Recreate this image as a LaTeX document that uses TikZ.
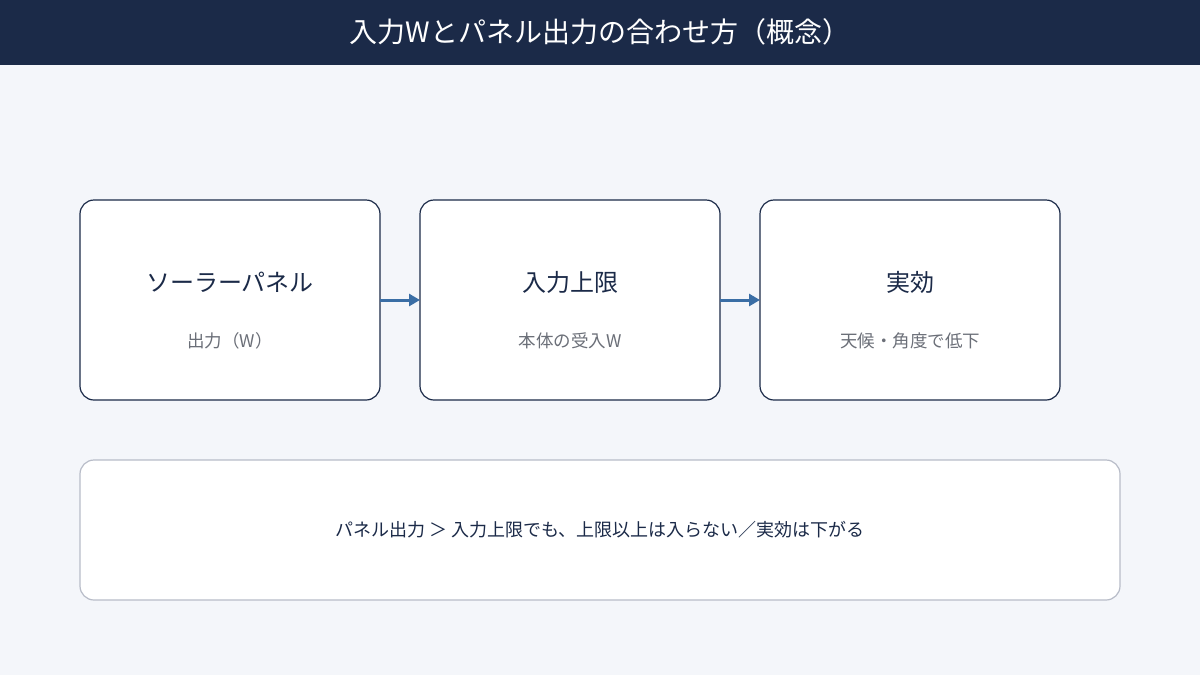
\documentclass[tikz,border=0pt]{standalone}
\usepackage{fontspec}
\setmainfont{Noto Sans CJK JP}
\usetikzlibrary{arrows.meta}
\definecolor{navy}{HTML}{1B2A48}
\definecolor{bg}{HTML}{F4F6FA}
\definecolor{arr}{HTML}{3A6EA5}
\definecolor{sub}{HTML}{6B6F78}
\definecolor{gb}{HTML}{B8BCC8}
\tikzset{
 box/.style={draw=navy,line width=1.2pt,fill=white,rounded corners=14pt},
 ttl/.style={text=navy,font=\fontsize{24}{28}\selectfont},
 sb/.style={text=sub,font=\fontsize{17.5}{21}\selectfont},
 con/.style={draw=arr,line width=3pt,-{Triangle[length=11pt,width=12pt]}}
}
\begin{document}
\begin{tikzpicture}[x=1pt,y=-1pt]
\useasboundingbox (0,0) rectangle (1200,675);
\fill[bg] (0,0) rectangle (1200,675);
\fill[navy] (0,0) rectangle (1200,65);
\node[text=white,font=\fontsize{28}{32}\selectfont] (title) at (600,32) {入力Wとパネル出力の合わせ方（概念）};
\draw[box] (80,200) rectangle (380,400);
\draw[box] (420,200) rectangle (720,400);
\draw[box] (760,200) rectangle (1060,400);
\node[ttl] (t1) at (230,282) {ソーラーパネル};
\node[sb] (s1) at (230,341) {出力（W）};
\node[ttl] (t2) at (570,282) {入力上限};
\node[sb] (s2) at (570,341) {本体の受入W};
\node[ttl] (t3) at (910,282) {実効};
\node[sb] (s3) at (910,341) {天候・角度で低下};
\coordinate (a1) at (380,300); \coordinate (a2) at (420,300);
\coordinate (a3) at (720,300); \coordinate (a4) at (760,300);
\draw[con] (a1) -- (a2);
\draw[con] (a3) -- (a4);
\draw[draw=gb,line width=1.2pt,fill=white,rounded corners=14pt] (80,460) rectangle (1120,600);
\node[text=navy,font=\fontsize{18}{22}\selectfont] (note) at (600,530) {パネル出力 ＞ 入力上限でも、上限以上は入らない／実効は下がる};
\end{tikzpicture}
\end{document}
